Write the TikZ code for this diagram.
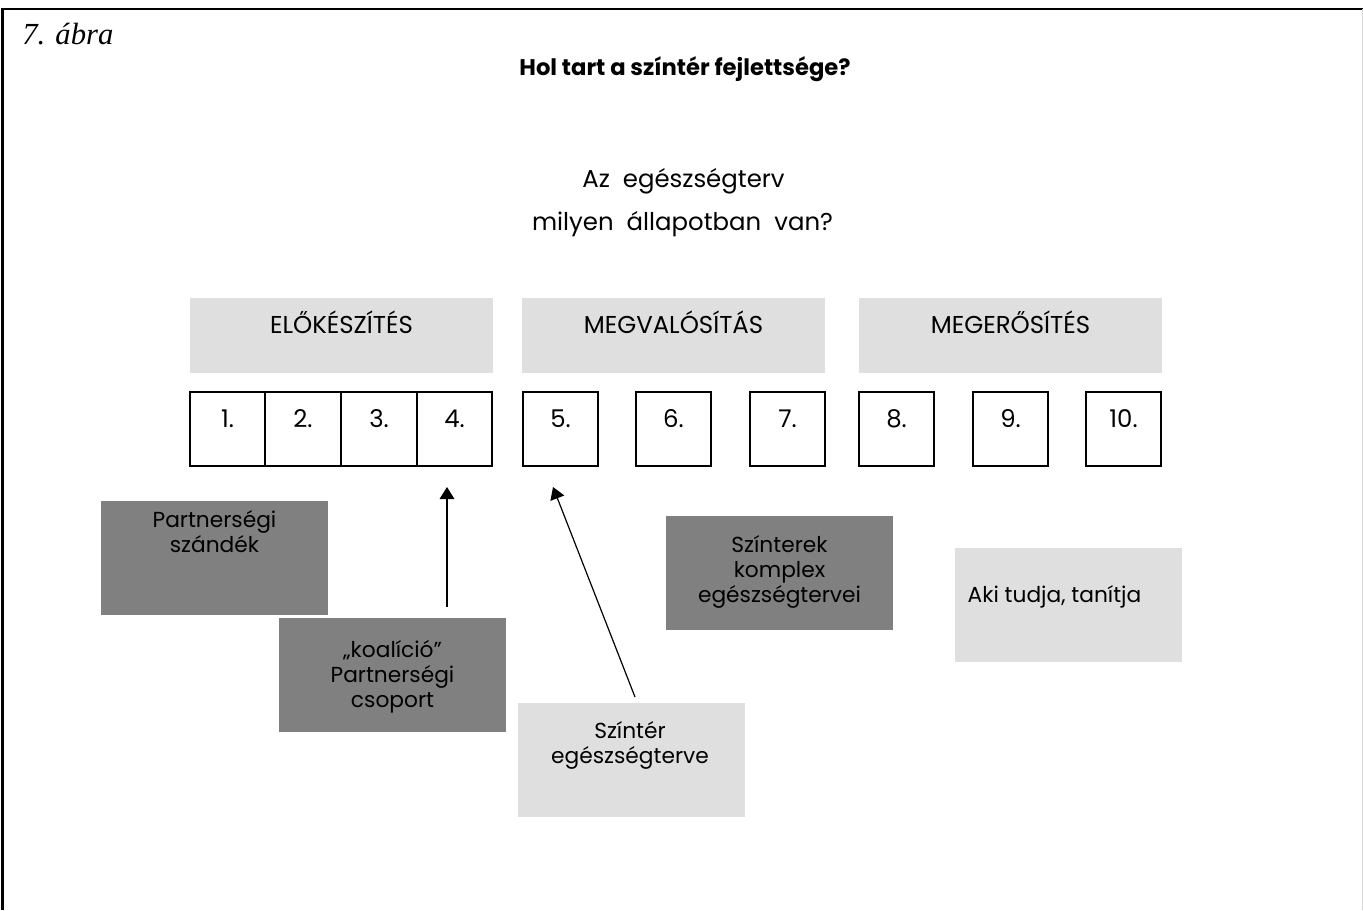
\documentclass[tikz,border=0pt]{standalone}
\usepackage{fontspec}
\setmainfont{Poppins}
\newfontfamily\capfont{Liberation Serif}
\usetikzlibrary{arrows.meta}
\definecolor{lgray}{HTML}{DFDFDF}
\definecolor{dgray}{HTML}{808080}
\begin{document}
\begin{tikzpicture}[x=0.75pt,y=-0.75pt,
  phase/.style={fill=lgray,draw=none,inner sep=0pt,minimum width=227.25pt,minimum height=56.25pt},
  numbox/.style={draw=black,line width=1.1pt,inner sep=0pt,minimum width=56.25pt,minimum height=55.5pt},
  lbox/.style={fill=lgray,draw=none,inner sep=0pt,minimum width=170.25pt,minimum height=85.5pt},
  dbox/.style={fill=dgray,draw=none,inner sep=0pt,minimum width=170.25pt,minimum height=85.5pt},
  txt/.style={font=\fontsize{16.3}{18.6}\selectfont,align=center,inner sep=0pt,anchor=base,text=black},
  big/.style={txt,font=\fontsize{18.3}{22}\selectfont},
  arr/.style={line width=0.9pt,-{Triangle[length=9pt,width=11pt]}}]
\useasboundingbox (0,0) rectangle (1363,910);
% frame
\draw[line width=2.2pt] (2.5,910) -- (2.5,9) -- (1363,9);
\draw[line width=0.6pt,black!15] (1362,9) -- (1362,910);
% captions
\node[inner sep=0pt,anchor=base west,font=\capfont\itshape\fontsize{23}{26}\selectfont] (cap) at (22,44) {7. ábra};
\node[inner sep=0pt,anchor=base,font=\bfseries\fontsize{17}{20}\selectfont] (title) at (685,75) {Hol tart a színtér fejlettsége?};
\node[big] (q1) at (683.5,187) {Az~~egészségterv};
\node[big] (q2) at (682.5,230) {milyen~~állapotban~~van?};
% phases
\node[phase] (p1) at (341.5,335.5) {};
\node[phase] (p2) at (673.5,335.5) {};
\node[phase] (p3) at (1010.5,335.5) {};
\node[big] (p1t) at (341.5,333) {ELŐKÉSZÍTÉS};
\node[big] (p2t) at (673.5,333) {MEGVALÓSÍTÁS};
\node[big] (p3t) at (1010.5,333) {MEGERŐSÍTÉS};
% number boxes
\foreach \i/\x in {1/227.5,2/303,3/379,4/454.5,5/560.5,6/673.5,7/787.5,8/896.5,9/1010.5,10/1123.5}{
  \node[numbox] (n\i) at (\x,429) {};
  \node[big] (n\i t) at (\x,427) {\i.};
}
% bottom boxes (base anchor = baseline of last line)
\node[dbox] (psz) at (214.5,558) {};
\node[txt] (pszt) at (214.5,552) {Partnerségi\\szándék};
\node[dbox] (koal) at (392.5,675) {};
\node[txt] (koalt) at (392.5,707) {„koalíció”\\Partnerségi\\csoport};
\node[dbox] (szk) at (779.5,572.5) {};
\node[txt] (szkt) at (779.5,602) {Színterek\\komplex\\egészségtervei};
\node[lbox] (aki) at (1068.5,604.5) {};
\node[txt] (akit) at (1054.5,602) {Aki tudja, tanítja};
\node[lbox] (sze) at (631.5,760) {};
\node[txt] (szet) at (630,763) {Színtér\\egészségterve};
% arrows
\coordinate (a1s) at (447,607);
\coordinate (a1e) at (447,487);
\coordinate (a2s) at (635,697);
\coordinate (a2e) at (553,487);
\draw[arr] (a1s) -- (a1e);
\draw[arr] (a2s) -- (a2e);
\end{tikzpicture}
\end{document}
